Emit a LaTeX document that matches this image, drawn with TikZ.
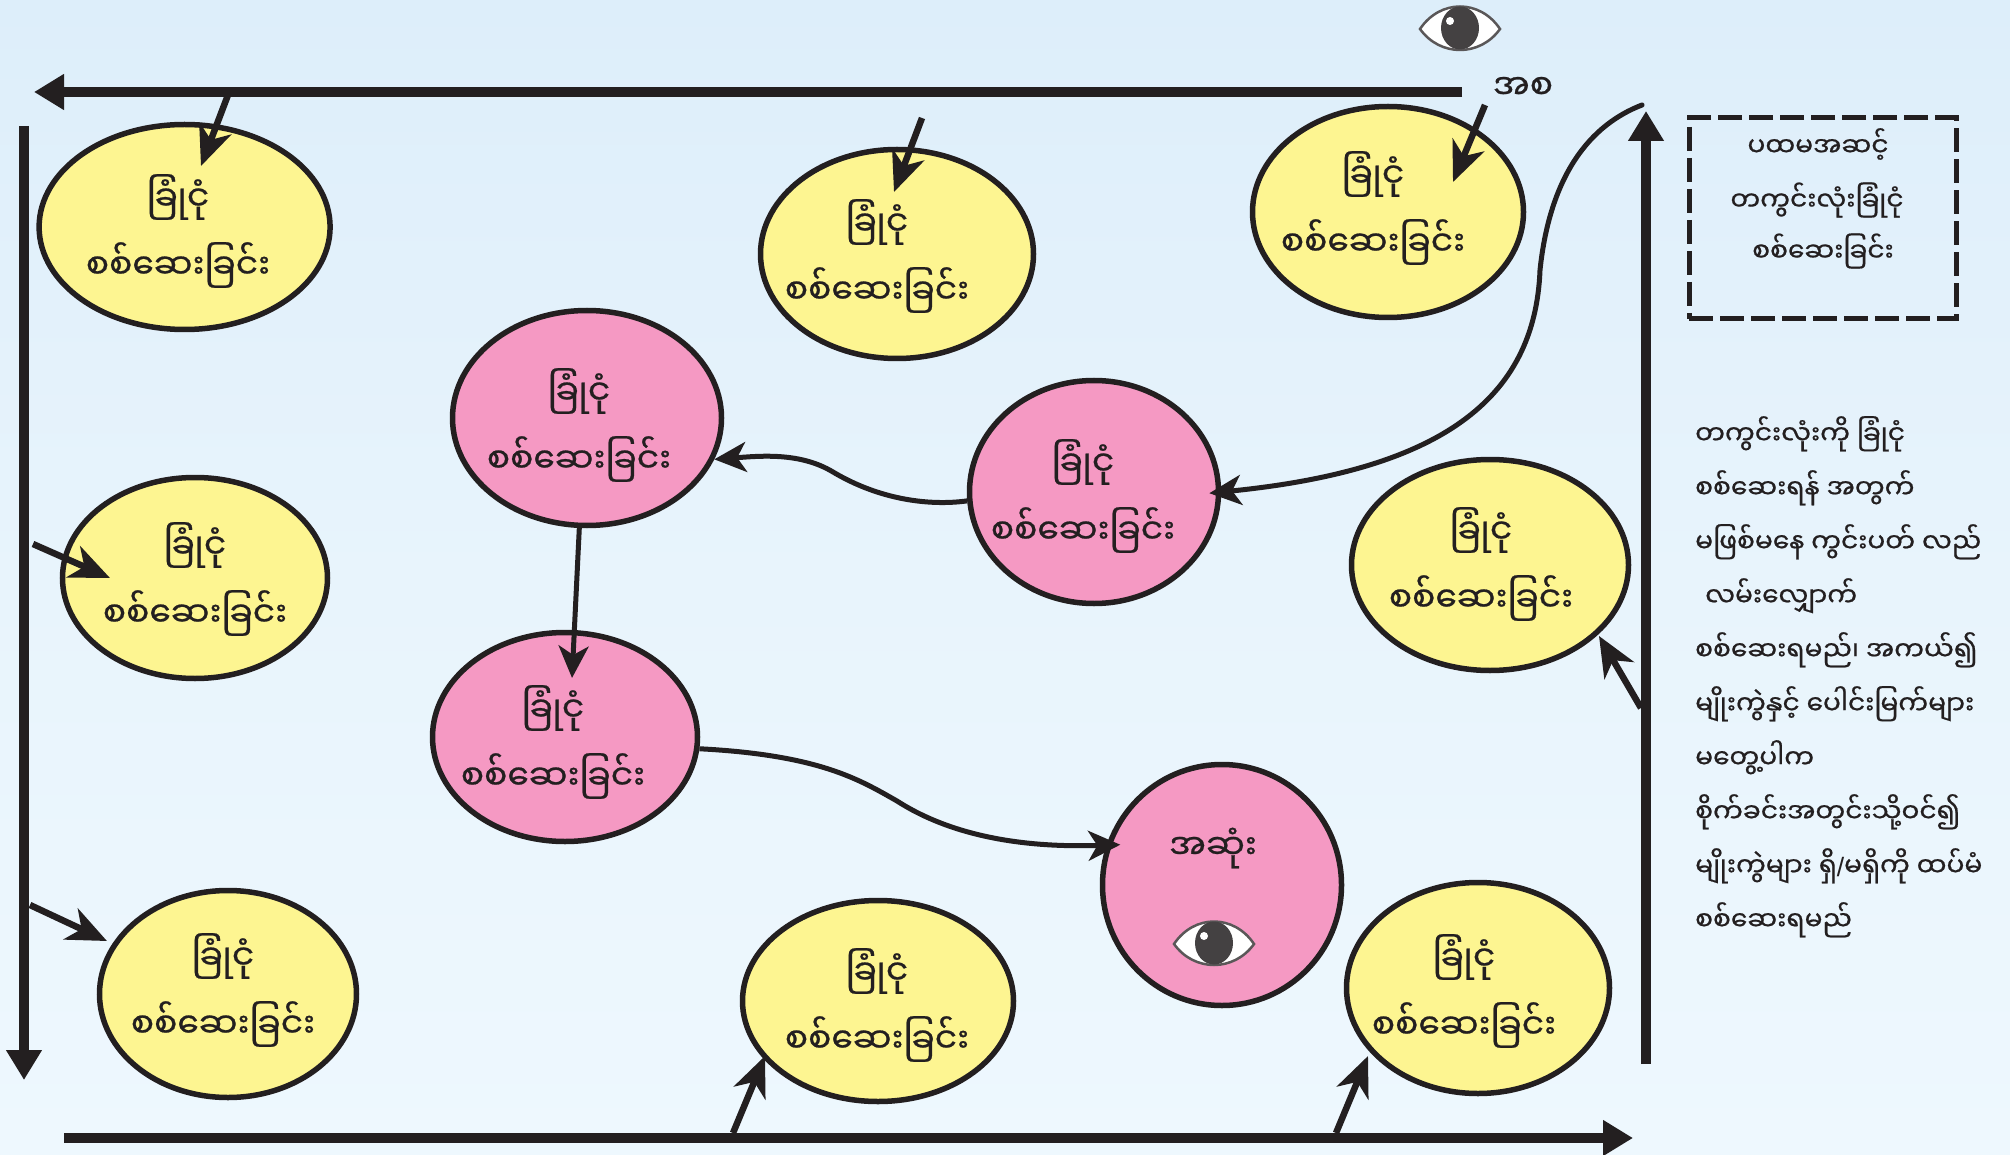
\documentclass[tikz,border=0pt]{standalone}
\usepackage{fontspec}
\usetikzlibrary{arrows.meta,shapes.geometric,calc}
\newfontfamily\myfont[Script=Myanmar,FakeBold=0.7]{Noto Sans Myanmar UI}
\newfontfamily\latinfont{Liberation Sans}
\definecolor{ink}{RGB}{35,31,32}
\definecolor{yel}{RGB}{253,245,145}
\definecolor{pnk}{RGB}{245,153,195}
\definecolor{bgtop}{RGB}{221,238,250}
\definecolor{bgmid}{RGB}{232,244,252}
\definecolor{bgbot}{RGB}{238,248,254}
\tikzset{
  x=1pt,y=-1pt,
  oval/.style={ellipse,draw=ink,line width=5.5pt,inner sep=0pt},
  yoval/.style={oval,fill=yel},
  poval/.style={oval,fill=pnk},
  ovaltext/.style={text=ink,inner sep=0pt,align=center,font=\myfont\fontsize{34.5}{68}\selectfont},
  bigarrow/.style={draw=ink,line width=10pt,-{Triangle[length=30pt,width=34pt]}},
  shortarrow/.style={draw=ink,line width=6.5pt,-{Stealth[length=40pt,width=34pt,inset=12pt]}},
  curvearrow/.style={draw=ink,line width=5pt,-{Stealth[length=32pt,width=30pt,inset=9pt]}},
  lab/.style={text=ink,inner sep=0pt,font=\myfont\fontsize{26.5}{54}\selectfont},
}
\newcommand{\eyeshape}[2]{%
  \begin{scope}[shift={(#1,#2)}]
    \draw[fill=white,draw=ink!75,line width=2.5pt] (-40,0) .. controls (-20,-30) and (20,-30) .. (40,0) .. controls (20,28) and (-20,28) .. (-40,0) -- cycle;
    \fill[ink!85] (0,-1) ellipse (19 and 21.5);
    \fill[white] (-10,-8) circle (4);
  \end{scope}}
\begin{document}
\begin{tikzpicture}
\useasboundingbox (0,0) rectangle (2010,1155);
\fill[top color=bgtop,bottom color=bgmid] (0,0) rectangle (2010,578);
\fill[top color=bgmid,bottom color=bgbot] (0,578) rectangle (2010,1155);

\node[yoval,minimum width=291pt,minimum height=205pt] (y1) at (184.6,227) {};
\node[yoval,minimum width=273pt,minimum height=209pt] (y2) at (897,254) {};
\node[yoval,minimum width=271pt,minimum height=211pt] (y3) at (1388,212) {};
\node[yoval,minimum width=265pt,minimum height=201pt] (y4) at (195,578) {};
\node[yoval,minimum width=257pt,minimum height=207pt] (y5) at (228,994) {};
\node[yoval,minimum width=271pt,minimum height=201pt] (y6) at (878,1001) {};
\node[yoval,minimum width=263pt,minimum height=211pt] (y7) at (1478,988) {};
\node[yoval,minimum width=277pt,minimum height=211pt] (y8) at (1490,565) {};
\node[poval,minimum width=269pt,minimum height=215pt] (p1) at (587,418) {};
\node[poval,minimum width=249pt,minimum height=223pt] (p2) at (1094,492) {};
\node[poval,minimum width=265pt,minimum height=209pt] (p3) at (565,737) {};
\node[poval,minimum width=239pt,minimum height=241pt] (p4) at (1222,885) {};

\foreach \n/\x/\y in {t1/178/231,t2/877/256,t3/1373/208,t4/195/579,t5/223/990,t6/877/1005,t7/1464/991,t8/1481/564,t9/579/425,t10/1083/496,t11/553/742}
  {\node[ovaltext] (\n) at (\x,\y) {ခြုံငုံ\\စစ်ဆေးခြင်း};}
\node[ovaltext] (endt) at (1213,848) {အဆုံး};
\node[ovaltext] (start) at (1523,88) {အစ};

\eyeshape{1460}{29}
\eyeshape{1214}{944}

\coordinate (tl) at (1462,92); \coordinate (tr) at (34,92);
\coordinate (ll) at (24,126); \coordinate (lb) at (24,1080);
\coordinate (bl) at (64,1138); \coordinate (br) at (1633,1138);
\coordinate (rb) at (1646,1064); \coordinate (rt) at (1646,111);
\draw[bigarrow] (tl) -- (tr);
\draw[bigarrow] (ll) -- (lb);
\draw[bigarrow] (bl) -- (br);
\draw[bigarrow] (rb) -- (rt);

\coordinate (a1) at (228,95);  \coordinate (a1e) at (201,166);
\coordinate (a2) at (922,118); \coordinate (a2e) at (894,192);
\coordinate (a3) at (1485,105);\coordinate (a3e) at (1453,182);
\coordinate (a4) at (33,544);  \coordinate (a4e) at (110,578);
\coordinate (a5) at (30,905);  \coordinate (a5e) at (107,941);
\coordinate (a6) at (733,1133);\coordinate (a6e) at (765,1056);
\coordinate (a7) at (1336,1133);\coordinate (a7e) at (1368,1056);
\coordinate (a8) at (1641,708);\coordinate (a8e) at (1599,636);
\foreach \i in {1,...,8} {\draw[shortarrow] (a\i) -- (a\i e);}

\draw[curvearrow] (p2.184) .. controls (930,506) and (880,500) .. (833,472)
   .. controls (800,452) and (760,456) .. (p1.-18);
\draw[curvearrow,shorten >=-48pt] (p1.-94) -- (p3.85);
\draw[curvearrow,shorten >=-14pt] (p3.-5) .. controls (820,755) and (860,780) .. (897,801)
   .. controls (950,835) and (1020,848) .. (p4.161);
\coordinate (c0) at (1642,105);
\draw[curvearrow,line cap=round,shorten >=-12pt] (c0) .. controls (1590,125) and (1550,175) .. (1540,270)
   .. controls (1535,400) and (1440,470) .. (p2.0);

\node[draw=ink,line width=5pt,dash pattern=on 24pt off 7pt,minimum width=267pt,minimum height=201pt,inner sep=0pt] (box) at (1822.5,218.5) {};
\node[lab] (b1) at (1818,144) {ပထမအဆင့်};
\node[lab] (b2) at (1817,200) {တကွင်းလုံးခြုံငုံ};
\node[lab] (b3) at (1823,251) {စစ်ဆေးခြင်း};
\node[lab,align=left,anchor=north west] (para) at (1695,416) {တကွင်းလုံးကို ခြုံငုံ\\
စစ်ဆေးရန် အတွက်\\
မဖြစ်မနေ ကွင်းပတ် လည်\\
\hspace*{10pt}လမ်းလျှောက်\\
စစ်ဆေးရမည်၊ အကယ်၍\\
မျိုးကွဲနှင့် ပေါင်းမြက်များ\\
မတွေ့ပါက\\
စိုက်ခင်းအတွင်းသို့ဝင်၍\\
မျိုးကွဲများ ရှိ{\latinfont/}မရှိကို ထပ်မံ\\
စစ်ဆေးရမည်};
\end{tikzpicture}
\end{document}
